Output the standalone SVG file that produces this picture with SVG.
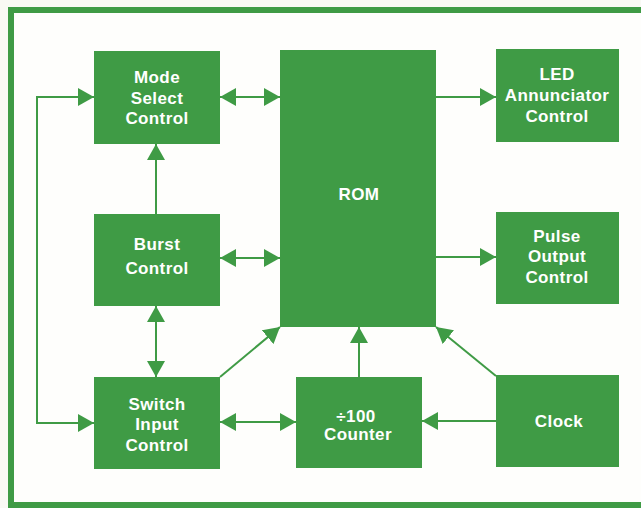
<svg xmlns="http://www.w3.org/2000/svg" width="641" height="508" viewBox="0 0 641 508">
  <defs>
    <style>
      .box { fill: #3f9b45; }
      .lbl { fill: #ffffff; font-family: "Liberation Sans", Arial, Helvetica, sans-serif; font-weight: bold; font-size: 17px; letter-spacing: 0.4px; text-anchor: middle; }
      .conn { stroke: #3f9b45; stroke-width: 2; fill: none; }
      .frame { stroke: #3f9b45; stroke-width: 6; fill: #fefefc; }
    </style>
    <marker id="arr" markerUnits="userSpaceOnUse" markerWidth="16" markerHeight="18" refX="16" refY="9" orient="auto-start-reverse" viewBox="0 0 16 18">
      <path d="M0,0 L16,9 L0,18 Z" fill="#3f9b45"/>
    </marker>
  </defs>
  <rect x="0" y="0" width="641" height="508" fill="#f9f9f4"/>
  <rect class="frame" x="11" y="10" width="660" height="495"/>

  <g id="connectors">
    <polyline class="conn" points="94,97 37,97 37,423 94,423" marker-start="url(#arr)" marker-end="url(#arr)"/>
    <line class="conn" x1="220" y1="97" x2="280" y2="97" marker-start="url(#arr)" marker-end="url(#arr)"/>
    <line class="conn" x1="156" y1="214" x2="156" y2="144" marker-end="url(#arr)"/>
    <line class="conn" x1="220" y1="258" x2="280" y2="258" marker-start="url(#arr)" marker-end="url(#arr)"/>
    <line class="conn" x1="156" y1="306" x2="156" y2="377" marker-start="url(#arr)" marker-end="url(#arr)"/>
    <line class="conn" x1="220" y1="377" x2="280" y2="327" marker-end="url(#arr)"/>
    <line class="conn" x1="220" y1="422" x2="296" y2="422" marker-start="url(#arr)" marker-end="url(#arr)"/>
    <line class="conn" x1="359" y1="377" x2="359" y2="327" marker-end="url(#arr)"/>
    <line class="conn" x1="496" y1="376" x2="436" y2="327" marker-end="url(#arr)"/>
    <line class="conn" x1="496" y1="421" x2="422" y2="421" marker-end="url(#arr)"/>
    <line class="conn" x1="436" y1="97" x2="496" y2="97" marker-end="url(#arr)"/>
    <line class="conn" x1="436" y1="257" x2="496" y2="257" marker-end="url(#arr)"/>
  </g>

  <g id="mode-select-control">
    <rect class="box" x="94" y="51" width="126" height="93"/>
    <text class="lbl" x="157" y="83">Mode</text>
    <text class="lbl" x="157" y="104">Select</text>
    <text class="lbl" x="157" y="124">Control</text>
  </g>
  <g id="rom">
    <rect class="box" x="280" y="50" width="156" height="277"/>
    <text class="lbl" x="359" y="200">ROM</text>
  </g>
  <g id="led-annunciator-control">
    <rect class="box" x="496" y="49" width="123" height="93"/>
    <text class="lbl" x="557" y="80">LED</text>
    <text class="lbl" x="557" y="101">Annunciator</text>
    <text class="lbl" x="557" y="122">Control</text>
  </g>
  <g id="burst-control">
    <rect class="box" x="94" y="214" width="126" height="92"/>
    <text class="lbl" x="157" y="250">Burst</text>
    <text class="lbl" x="157" y="274">Control</text>
  </g>
  <g id="pulse-output-control">
    <rect class="box" x="496" y="212" width="123" height="92"/>
    <text class="lbl" x="557" y="242">Pulse</text>
    <text class="lbl" x="557" y="262">Output</text>
    <text class="lbl" x="557" y="283">Control</text>
  </g>
  <g id="switch-input-control">
    <rect class="box" x="94" y="377" width="126" height="92"/>
    <text class="lbl" x="157" y="410">Switch</text>
    <text class="lbl" x="157" y="430">Input</text>
    <text class="lbl" x="157" y="451">Control</text>
  </g>
  <g id="counter">
    <rect class="box" x="296" y="377" width="126" height="91"/>
    <text class="lbl" x="356" y="422">÷100</text>
    <text class="lbl" x="358" y="440">Counter</text>
  </g>
  <g id="clock">
    <rect class="box" x="496" y="375" width="123" height="92"/>
    <text class="lbl" x="559" y="427">Clock</text>
  </g>
</svg>
